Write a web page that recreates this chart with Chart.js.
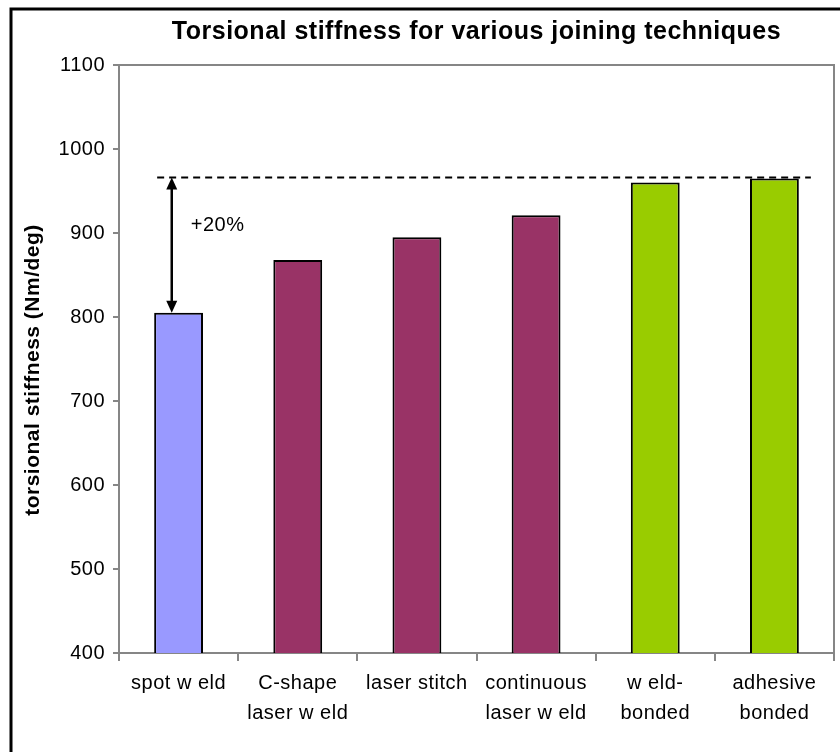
<!DOCTYPE html>
<html>
<head>
<meta charset="utf-8">
<script src="https://cdn.jsdelivr.net/npm/chart.js@4.4.1/dist/chart.umd.min.js"></script>
<style>
  html, body { margin: 0; padding: 0; background: #ffffff; }
  #wrap { width: 840px; height: 752px; position: relative; }
</style>
</head>
<body>
<div id="wrap"><canvas id="chart" width="840" height="752"></canvas></div>
<script>
// Joining techniques and their measured torsional stiffness (Nm/deg)
const categories = [
  'spot w eld',
  ['C-shape', 'laser w eld'],
  'laser stitch',
  ['continuous', 'laser w eld'],
  ['w eld-', 'bonded'],
  ['adhesive', 'bonded']
];
const stiffness = [805, 868, 895, 921, 960, 965];
const barColors = ['#9999FF', '#993366', '#993366', '#993366', '#99CC00', '#99CC00'];
const yTicks = [400, 500, 600, 700, 800, 900, 1000, 1100];
// Spot-weld baseline raised by 20 %
const baseline = [805];
const improvedLevel = [966];
const improvementLabel = ['+20%'];
const yAxisTitle = ['torsional stiffness (Nm/deg)'];

const FONT = "'Liberation Sans', Arial, sans-serif";
const AXIS_GREY = '#868686';
const SPACING = '0.5px';

// Slightly open letter spacing for every text on the canvas
const spacingPlugin = {
  id: 'spacing',
  beforeUpdate(chart) { chart.ctx.letterSpacing = SPACING; },
  beforeLayout(chart) { chart.ctx.letterSpacing = SPACING; },
  beforeDraw(chart) { chart.ctx.letterSpacing = SPACING; }
};

// Frame round the chart, top/right edges of the plot area, vertical axis title
const framePlugin = {
  id: 'frame',
  afterDraw(chart) {
    const ctx = chart.ctx;
    const a = chart.chartArea;
    ctx.save();
    ctx.strokeStyle = AXIS_GREY;
    ctx.lineWidth = 2;
    ctx.beginPath();
    ctx.moveTo(a.left, a.top);
    ctx.lineTo(a.right, a.top);
    ctx.lineTo(a.right, a.bottom);
    ctx.stroke();
    ctx.strokeStyle = '#000000';
    ctx.lineWidth = 3;
    ctx.beginPath();
    ctx.moveTo(11, chart.height + 5);
    ctx.lineTo(11, 9);
    ctx.lineTo(chart.width + 5, 9);
    ctx.stroke();

    ctx.translate(33, (a.top + a.bottom) / 2 + 11);
    ctx.rotate(-Math.PI / 2);
    ctx.letterSpacing = SPACING;
    ctx.font = 'bold 21px ' + FONT;
    ctx.fillStyle = '#000000';
    ctx.textAlign = 'center';
    ctx.textBaseline = 'middle';
    ctx.fillText(yAxisTitle[0], 0, 0);
    ctx.restore();
  }
};

// Dashed target level and the double arrow from the spot-weld bar up to it
const improvementPlugin = {
  id: 'improvement',
  afterDatasetsDraw(chart) {
    const ctx = chart.ctx;
    const y = chart.scales.y;
    const bars = chart.getDatasetMeta(0).data;
    const first = bars[0];
    const last = bars[bars.length - 1];
    const yTop = y.getPixelForValue(improvedLevel[0]);
    const yBase = y.getPixelForValue(baseline[0]);
    const firstLeft = first.x - first.width / 2;
    const lastRight = last.x + last.width / 2;
    const arrowX = first.x - first.width * 0.14;

    ctx.save();
    ctx.strokeStyle = '#000000';
    ctx.lineWidth = 2;
    ctx.setLineDash([7, 5]);
    ctx.beginPath();
    ctx.moveTo(firstLeft + 3, yTop);
    ctx.lineTo(lastRight + 12, yTop);
    ctx.stroke();
    ctx.setLineDash([]);

    const head = 12, half = 5.5;
    ctx.lineWidth = 2.5;
    ctx.beginPath();
    ctx.moveTo(arrowX, yTop + head - 2);
    ctx.lineTo(arrowX, yBase - head + 2);
    ctx.stroke();
    ctx.fillStyle = '#000000';
    ctx.beginPath();
    ctx.moveTo(arrowX, yTop);
    ctx.lineTo(arrowX - half, yTop + head);
    ctx.lineTo(arrowX + half, yTop + head);
    ctx.closePath();
    ctx.fill();
    ctx.beginPath();
    ctx.moveTo(arrowX, yBase);
    ctx.lineTo(arrowX - half, yBase - head);
    ctx.lineTo(arrowX + half, yBase - head);
    ctx.closePath();
    ctx.fill();

    ctx.letterSpacing = SPACING;
    ctx.font = '20px ' + FONT;
    ctx.textAlign = 'left';
    ctx.textBaseline = 'middle';
    ctx.fillText(improvementLabel[0], arrowX + 19, (yTop + yBase) / 2 - 20);
    ctx.restore();
  }
};

new Chart(document.getElementById('chart'), {
  type: 'bar',
  data: {
    labels: categories,
    datasets: [{
      data: stiffness,
      backgroundColor: barColors,
      borderColor: '#000000',
      borderWidth: 2,
      barPercentage: 0.41,
      categoryPercentage: 1.0
    }]
  },
  options: {
    responsive: false,
    animation: false,
    layout: { padding: { left: 0, right: 6, top: 0, bottom: 0 } },
    plugins: {
      legend: { display: false },
      tooltip: { enabled: false },
      title: {
        display: true,
        fullSize: false,
        text: 'Torsional stiffness for various joining techniques',
        color: '#000000',
        font: { family: FONT, size: 25, weight: 'bold' },
        padding: { top: 17, bottom: 18 }
      }
    },
    scales: {
      x: {
        afterFit(scale) { scale.height = 99; },
        grid: {
          display: true,
          offset: true,
          drawOnChartArea: false,
          drawTicks: true,
          tickLength: 8,
          color: AXIS_GREY,
          lineWidth: 2
        },
        border: { display: true, color: AXIS_GREY, width: 2 },
        ticks: {
          color: '#000000',
          font: { family: FONT, size: 20, lineHeight: 1.5 },
          padding: 7,
          maxRotation: 0,
          autoSkip: false
        }
      },
      y: {
        min: 400,
        max: 1100,
        afterFit(scale) { scale.width = 119; },
        afterBuildTicks(scale) { scale.ticks = yTicks.map(v => ({ value: v })); },
        grid: {
          display: true,
          drawOnChartArea: false,
          drawTicks: true,
          tickLength: 6,
          color: AXIS_GREY,
          lineWidth: 2
        },
        border: { display: true, color: AXIS_GREY, width: 2 },
        ticks: {
          color: '#000000',
          font: { family: FONT, size: 20 },
          padding: 8,
          callback: (value) => String(value)
        }
      }
    }
  },
  plugins: [spacingPlugin, framePlugin, improvementPlugin]
});
</script>
</body>
</html>
